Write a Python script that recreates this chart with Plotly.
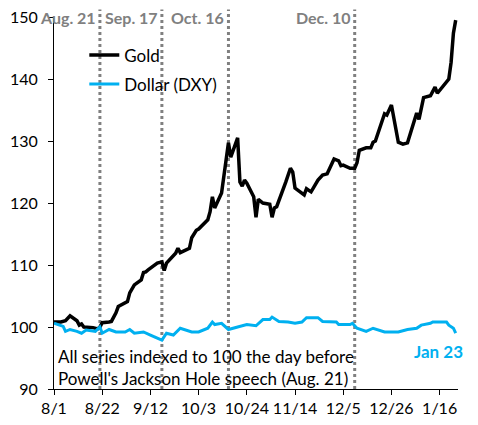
import plotly.graph_objects as go

# gold, indexed to 100 on Aug. 21
gold_dates = ["2025-08-01", "2025-08-04", "2025-08-06", "2025-08-08", "2025-08-11", "2025-08-12",
              "2025-08-13", "2025-08-14", "2025-08-18", "2025-08-20", "2025-08-21", "2025-08-22",
              "2025-08-25", "2025-08-26", "2025-08-28", "2025-08-29", "2025-09-02", "2025-09-03",
              "2025-09-05", "2025-09-08", "2025-09-09", "2025-09-10", "2025-09-11", "2025-09-12",
              "2025-09-15", "2025-09-17", "2025-09-18", "2025-09-19", "2025-09-23", "2025-09-24",
              "2025-09-25", "2025-09-29", "2025-09-30", "2025-10-02", "2025-10-03", "2025-10-07",
              "2025-10-08", "2025-10-09", "2025-10-10", "2025-10-13", "2025-10-14", "2025-10-15",
              "2025-10-16", "2025-10-17", "2025-10-20", "2025-10-21", "2025-10-22", "2025-10-23",
              "2025-10-24", "2025-10-27", "2025-10-28", "2025-10-29", "2025-10-31", "2025-11-03",
              "2025-11-04", "2025-11-05", "2025-11-06", "2025-11-10", "2025-11-12", "2025-11-13",
              "2025-11-14", "2025-11-18", "2025-11-19", "2025-11-21", "2025-11-24", "2025-11-26",
              "2025-11-28", "2025-12-01", "2025-12-03", "2025-12-04", "2025-12-05", "2025-12-08",
              "2025-12-10", "2025-12-11", "2025-12-12", "2025-12-15", "2025-12-17", "2025-12-18",
              "2025-12-19", "2025-12-23", "2025-12-24", "2025-12-26", "2025-12-29", "2025-12-31",
              "2026-01-02", "2026-01-06", "2026-01-07", "2026-01-09", "2026-01-12", "2026-01-14",
              "2026-01-15", "2026-01-20", "2026-01-21", "2026-01-22", "2026-01-23"]
gold = [100.8, 100.8, 101.0, 101.8, 101.0, 100.3,
        100.5, 100.0, 99.9, 99.7, 100.0, 100.7,
        100.8, 100.9, 102.3, 103.3, 104.1, 105.5,
        106.8, 107.6, 108.8, 108.9, 109.2, 109.5,
        110.3, 110.5, 109.1, 110.3, 111.9, 112.7,
        112.0, 112.7, 114.4, 115.6, 115.8, 117.3,
        118.6, 121.0, 119.2, 121.6, 124.0, 126.5,
        129.7, 127.4, 130.5, 123.4, 122.7, 123.7,
        123.2, 121.0, 117.7, 120.6, 120.0, 119.8,
        117.7, 119.2, 119.4, 123.4, 125.6, 125.0,
        122.4, 121.3, 122.3, 121.8, 123.7, 124.5,
        124.7, 127.1, 126.8, 126.0, 126.1, 125.6,
        125.6, 126.5, 128.5, 128.9, 128.9, 129.8,
        130.0, 134.4, 134.2, 135.8, 129.8, 129.5,
        129.7, 134.5, 133.5, 137.0, 137.3, 138.7,
        137.7, 140.0, 142.7, 147.4, 149.5]

# dollar index (DXY), indexed to 100 on Aug. 21
dxy_dates = ["2025-08-01", "2025-08-05", "2025-08-06", "2025-08-08", "2025-08-11", "2025-08-13",
             "2025-08-15", "2025-08-19", "2025-08-21", "2025-08-22", "2025-08-25", "2025-08-28",
             "2025-09-01", "2025-09-03", "2025-09-05", "2025-09-09", "2025-09-12", "2025-09-17",
             "2025-09-19", "2025-09-22", "2025-09-25", "2025-09-30", "2025-10-03", "2025-10-07",
             "2025-10-09", "2025-10-10", "2025-10-13", "2025-10-16", "2025-10-20", "2025-10-24",
             "2025-10-28", "2025-10-31", "2025-11-03", "2025-11-04", "2025-11-07", "2025-11-11",
             "2025-11-14", "2025-11-17", "2025-11-19", "2025-11-24", "2025-11-26", "2025-12-02",
             "2025-12-03", "2025-12-08", "2025-12-09", "2025-12-11", "2025-12-15", "2025-12-18",
             "2025-12-23", "2025-12-29", "2026-01-02", "2026-01-06", "2026-01-08", "2026-01-12",
             "2026-01-13", "2026-01-19", "2026-01-20", "2026-01-22", "2026-01-23"]
dxy = [100.6, 100.1, 99.3, 99.6, 99.3, 99.0,
       99.5, 99.3, 100.0, 99.0, 99.6, 99.2,
       99.2, 99.6, 99.0, 99.2, 98.7, 97.9,
       99.0, 98.7, 99.8, 99.2, 99.2, 99.8,
       100.8, 100.4, 100.6, 99.6, 100.0, 100.4,
       100.2, 101.2, 101.2, 101.6, 100.9, 100.8,
       100.6, 100.8, 101.5, 101.5, 100.9, 100.8,
       100.4, 100.4, 100.6, 99.8, 99.3, 99.8,
       99.2, 99.2, 99.6, 99.8, 100.3, 100.6,
       100.8, 100.8, 100.3, 99.8, 99.0]

events = ["2025-08-21", "2025-09-17", "2025-10-16", "2025-12-10"]
event_labels = ["Aug. 21", "Sep. 17", "Oct. 16", "Dec. 10"]

tick_dates = ["2025-08-01", "2025-08-22", "2025-09-12", "2025-10-03", "2025-10-24",
              "2025-11-14", "2025-12-05", "2025-12-26", "2026-01-16"]
tick_labels = ["8/1", "8/22", "9/12", "10/3", "10/24", "11/14", "12/5", "12/26", "1/16"]

FONT = "Lato"
BLUE = "#00b0f0"
GREY = "#808080"

fig = go.Figure()
fig.add_trace(go.Scatter(x=gold_dates, y=gold, name="Gold", mode="lines",
                         line=dict(color="black", width=3.5), legendgroup="g"))
fig.add_trace(go.Scatter(x=dxy_dates, y=dxy, name="Dollar (DXY)", mode="lines",
                         line=dict(color=BLUE, width=3), legendgroup="d"))

for d, lab in zip(events, event_labels):
    fig.add_shape(type="line", xref="x", yref="paper", x0=d, x1=d, y0=0, y1=1.02,
                  line=dict(color=GREY, width=3, dash="dot"), layer="below")
    fig.add_annotation(x=d, xref="x", y=1.0, yref="paper", text="<b>" + lab + "</b>",
                       showarrow=False, xanchor="right", yanchor="middle", xshift=-2,
                       font=dict(family=FONT, size=16, color=GREY))

fig.add_annotation(x=0.006, xref="paper", y=90, yref="y", xanchor="left", yanchor="bottom",
                   yshift=-2, align="left", showarrow=False,
                   text="All series indexed to 100 the day before<br>Powell's Jackson Hole speech (Aug. 21)",
                   font=dict(family=FONT, size=17, color="black"))
fig.add_annotation(x=dxy_dates[-1], xref="x", y=96.0, yref="y", xanchor="right",
                   yanchor="middle", xshift=9, showarrow=False, text="<b>Jan 23</b>",
                   font=dict(family=FONT, size=17, color=BLUE))

# the page body sits 8px in from the window, so the figure is 8px smaller
fig.update_layout(
    width=470, height=417,
    margin=dict(l=46, r=20, t=9, b=36),
    plot_bgcolor="white", paper_bgcolor="white",
    font=dict(family=FONT, size=17, color="black"),
    showlegend=True,
    legend=dict(x=0.075, y=0.945, xanchor="left", yanchor="top", bgcolor="rgba(0,0,0,0)",
                tracegroupgap=4, traceorder="grouped", itemwidth=30,
                font=dict(family=FONT, size=17)),
    xaxis=dict(range=["2025-08-01", "2026-01-24"], tickvals=tick_dates, ticktext=tick_labels,
               tickangle=0, automargin=False, tickfont=dict(size=16),
               showgrid=False, zeroline=False, showline=True, linecolor="black", linewidth=1,
               ticks="outside", ticklen=5, tickcolor="black"),
    yaxis=dict(range=[90, 150], dtick=10, automargin=False, ticklabelstandoff=7,
               ticklabeloverflow="allow", tickfont=dict(size=16),
               showgrid=False, zeroline=False, showline=True,
               linecolor="black", linewidth=1, ticks="outside", ticklen=5, tickcolor="black"),
)

fig.write_html("out.html")
